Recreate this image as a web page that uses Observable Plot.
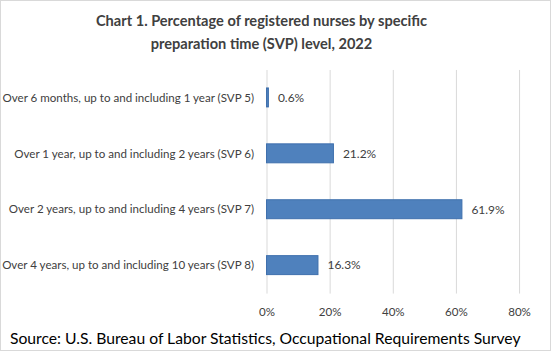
<!DOCTYPE html>
<html><head><meta charset="utf-8">
<script src="https://cdn.jsdelivr.net/npm/d3@7"></script>
<script src="https://cdn.jsdelivr.net/npm/@observablehq/plot@0.6"></script>
<style>
html,body{margin:0;padding:0;background:#fff;}
#wrap{position:relative;width:549px;height:349px;border:1px solid #d9d9d9;overflow:hidden;font-family:Lato,"Open Sans",sans-serif;}
#title{position:absolute;top:8px;left:-14px;width:549px;text-align:center;font-weight:bold;font-size:14.6px;line-height:23px;color:#404040;}
#chart{position:absolute;top:59px;left:-1px;}
#src{position:absolute;top:328px;left:9px;font-size:15.7px;color:#000;white-space:nowrap;}
</style></head><body>
<div id="wrap">
<div id="title">Chart 1. Percentage of registered nurses by specific<br>preparation time (SVP) level, 2022</div>
<div id="chart"></div>
<div id="src">Source: U.S. Bureau of Labor Statistics, Occupational Requirements Survey</div>
</div>
<script>
const categories = [
  "Over 6 months, up to and including 1 year (SVP 5)",
  "Over 1 year, up to and including 2 years (SVP 6)",
  "Over 2 years, up to and including 4 years (SVP 7)",
  "Over 4 years, up to and including 10 years (SVP 8)"
];
const values = [0.6, 21.2, 61.9, 16.3];
const xTicks = [0, 20, 40, 60, 80];

const data = categories.map((c, i) => ({cat: c, v: values[i]}));

const plot = Plot.plot({
  width: 551,
  height: 263,
  marginTop: 10,
  marginBottom: 29,
  marginLeft: 267,
  marginRight: 31,
  style: {fontFamily: "Lato, 'Open Sans', sans-serif", fontSize: "11.6px", color: "#595959", background: "transparent"},
  x: {domain: [0, 80], ticks: xTicks, tickFormat: d => d + "%", tickSize: 0, tickPadding: 14, label: null},
  y: {domain: categories, paddingInner: 0.66, paddingOuter: 0.33, tickSize: 0, tickPadding: 13, label: null},
  marks: [
    Plot.ruleX(xTicks, {stroke: "#d9d9d9", strokeWidth: 1}),
    Plot.barX(data, {y: "cat", x: "v", fill: "#4f81bd", stroke: "#3f70ad", strokeWidth: 1}),
    Plot.text(data, {y: "cat", x: "v", text: d => d.v.toFixed(1) + "%", dx: 9, textAnchor: "start", fill: "#404040", fontSize: 12})
  ]
});
plot.querySelectorAll('g[aria-label="y-axis tick label"] text, g[aria-label="x-axis tick label"] text').forEach(t => t.setAttribute("fill", "#404040"));
document.getElementById("chart").appendChild(plot);
</script>
</body></html>
